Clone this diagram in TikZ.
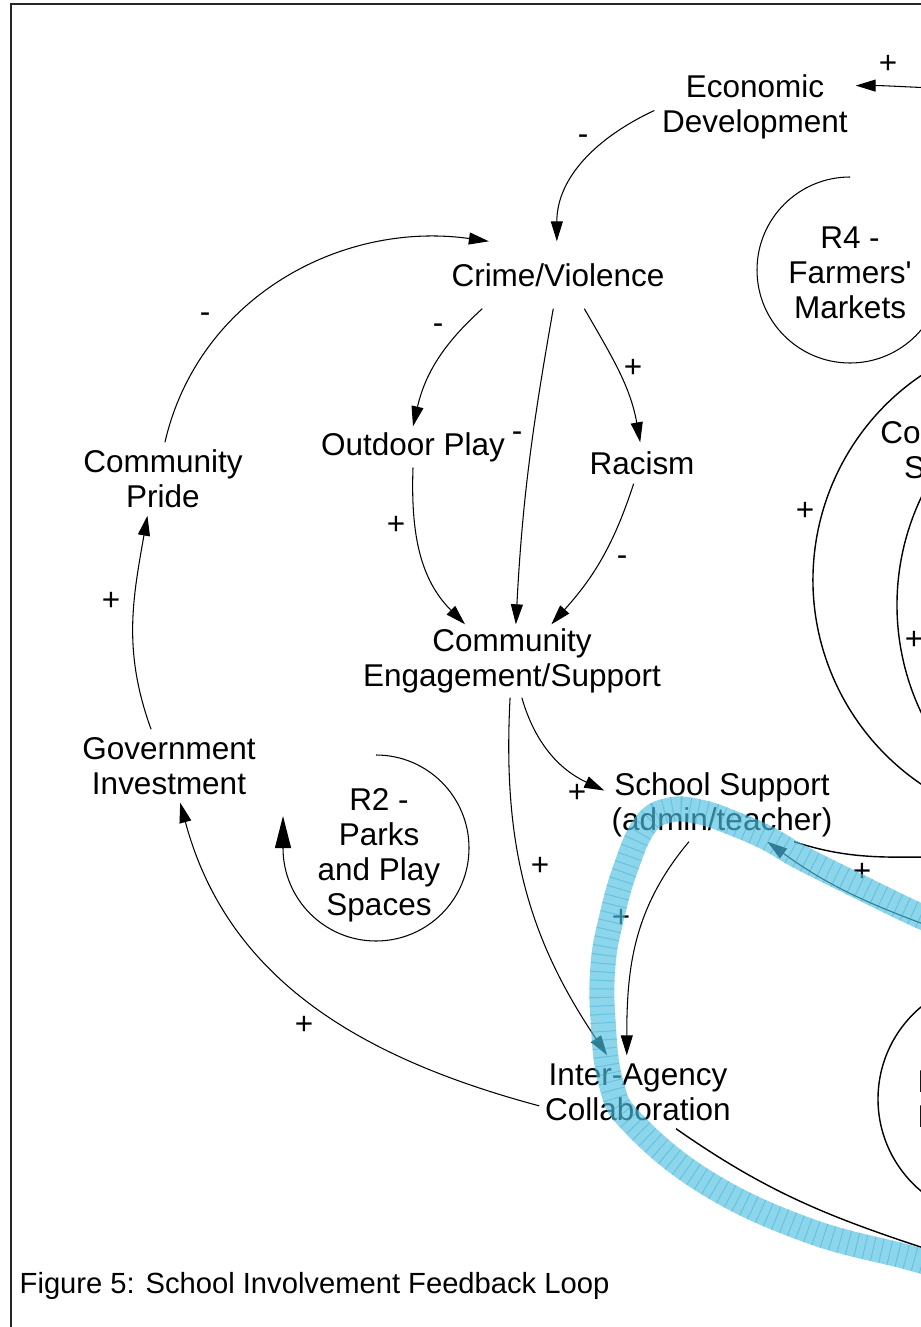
\documentclass[tikz,border=0pt]{standalone}
\usepackage{fontspec}
\setmainfont{Liberation Sans}
\usetikzlibrary{arrows.meta}
\newcommand\apos{\XeTeXglyph\XeTeXcharglyph"27\relax}
\newcommand\varfont{\fontsize{8.96pt}{9.96pt}\selectfont}
\newcommand\capfont{\fontsize{8.3pt}{9.5pt}\selectfont}
\definecolor{bandblue}{RGB}{80,190,222}
\definecolor{gridblue}{RGB}{20,165,210}

\begin{document}
\begin{tikzpicture}[x=0.1mm, y=0.1mm,
    var/.style={align=center, inner sep=0pt, font=\varfont},
    lbl/.style={inner sep=0pt, font=\varfont},
    link/.style={line width=0.3pt, -{Triangle[length=2mm,width=1.2mm]}},
    looparrow/.style={line width=0.3pt, -{Triangle[length=3.2mm,width=1.6mm]}},
    band/.style={line width=2.5mm, bandblue, opacity=0.65}]
    \useasboundingbox (0,0) rectangle (921,-1327);
    \clip (0,0) rectangle (921,-1327);

    % Frame
    \draw[line width=0.2mm, black!85] (10.5,-4.5) rectangle (1100,-1400);

    % Variables
    \node[var, minimum width=20mm, minimum height=8mm] (econ) at (755,-107) {Economic\\Development};
    \node[var, minimum width=25.2mm, minimum height=6.6mm] (crime) at (558,-275) {Crime/Violence};
    \node[var, minimum width=20mm, minimum height=4mm] (outdoor) at (413,-447) {Outdoor Play};
    \node[var, minimum width=12mm, minimum height=4mm] (racism) at (642,-463) {Racism};
    \node[var, minimum width=17mm, minimum height=7.2mm] (cpride) at (163,-479) {Community\\Pride};
    \node[var, minimum width=32mm, minimum height=7.2mm] (ces) at (512,-661) {Community\\Engagement/Support};
    \node[var, minimum width=18mm, minimum height=7.2mm] (gov) at (169,-766) {Government\\Investment};
    \node[var, minimum width=23.4mm, minimum height=7.2mm] (school) at (722,-805) {School Support\\(admin/teacher)};
    \node[var, minimum width=19.6mm, minimum height=7.2mm] (iac) at (638,-1092) {Inter-Agency\\Collaboration};
    \node[var] (cschools) at (960,-450) {Community\\Schools};

    % Loop markers
    \node[var] (r4) at (850,-273) {R4 -\\Farmers\apos\\Markets};
    \draw[looparrow] (850,-177) arc[start angle=90, end angle=360, radius=93] -- ++(0,32);
    \node[var] (r2) at (379,-855) {R2 -\\Parks\\and Play\\Spaces};
    \draw[looparrow] (376,-755) arc[start angle=90, end angle=-180, radius=93] -- ++(0,32);
    \node[var, align=left, anchor=west] (r3) at (917,-1099) {R3 -\\Parents};
    \draw (998,-979) arc[start angle=90, end angle=270, radius=120];

    % Free ends beyond the right edge
    \coordinate (topR) at (935,-88);
    \coordinate (rSchool) at (945,-857);
    \coordinate (rIn) at (945,-932);
    \coordinate (rBot) at (945,-1255);
    \coordinate (oTop) at (955.6,-356);
    \coordinate (iTop) at (930.6,-479.5);

    % Links
    \draw[link] (topR) to[out=178,in=0] (econ.12);
    \draw[link] (econ.182) to[out=205,in=90] (crime.92);
    \draw[link] (cpride.87) to[out=77,in=172] (crime.154);
    \draw[link] (crime.204) to[out=222,in=77] (outdoor.north);
    \draw[link] (crime.262) to[out=260,in=87] (ces.84);
    \draw[link] (crime.308) to[out=-60,in=100] (racism.95);
    \draw[link] (outdoor.south) to[out=-92,in=135] (ces.142);
    \draw[link] (racism.248) to[out=252,in=48] (ces.43);
    \draw[link] (ces.285) to[out=-74,in=155] (school.173);
    \draw[link] (ces.267) to[out=-93,in=124] (iac.130);
    \draw[link] (school.228) to[out=230,in=90] (iac.107);
    \draw[link] (iac.188) to[out=165,in=-75] (gov.287);
    \draw[link] (gov.116) to[out=110,in=-100] (cpride.247);
    \draw (school.333) to[out=-18,in=180] (rSchool);
    \draw[link] (rIn) to[out=160,in=-36] (school.321);
    \draw (iac.316) to[out=-35,in=162] (rBot);
    \draw (oTop) arc[start angle=115, end angle=245, radius=247];
    \draw (iTop) arc[start angle=150, end angle=210, radius=251];

    % Polarities
    \foreach \n/\x/\y/\s in {s1/888/-64/+, s2/583/-140/-, s3/205/-318/-, s4/438/-329/-,
        s5/633/-368/+, s6/517/-437/-, s7/805/-511/+, s8/396/-525/+, s9/622/-561/-,
        s10/111/-601/+, s11/914/-640/+, s12/577/-793/+, s13/540/-866/+,
        s14/862/-872/+, s15/621/-918/+, s16/304/-1025/+}
        \node[lbl] (\n) at (\x,\y) {\s};

    % Highlighted path
    \draw[band] plot[smooth, tension=0.7] coordinates {(945,-925) (920,-916) (860,-887)
        (800,-857) (767,-838) (730,-822) (700,-812) (670,-810) (645,-825) (625,-870)
        (611,-920) (603,-965) (603,-1020) (611,-1083) (633,-1123) (707,-1183)
        (807,-1230) (907,-1257) (945,-1268)};
    \draw[band, gridblue, opacity=0.35, dash pattern=on 0.1mm off 0.75mm]
        plot[smooth, tension=0.7] coordinates {(945,-925) (920,-916) (860,-887)
        (800,-857) (767,-838) (730,-822) (700,-812) (670,-810) (645,-825) (625,-870)
        (611,-920) (603,-965) (603,-1020) (611,-1083) (633,-1123) (707,-1183)
        (807,-1230) (907,-1257) (945,-1268)};

    % Caption
    \node[anchor=base west, inner sep=0pt, font=\capfont] (caption) at (19,-1293)
        {Figure 5: School Involvement Feedback Loop};
\end{tikzpicture}
\end{document}
